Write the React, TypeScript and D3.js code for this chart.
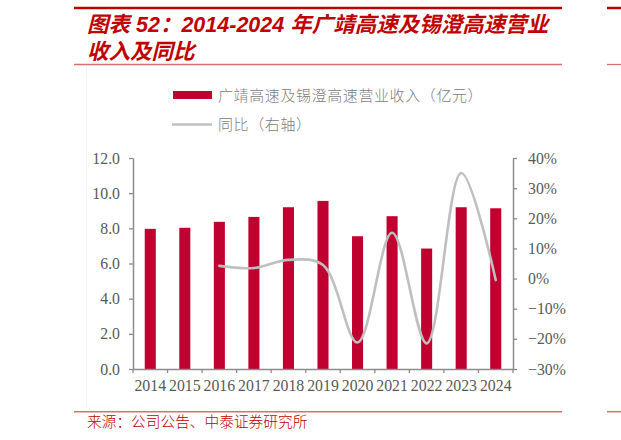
import { useRef, useEffect } from "react";
import * as d3 from "d3";

const years = ["2014", "2015", "2016", "2017", "2018", "2019", "2020", "2021", "2022", "2023", "2024"];
const revenue = [7.97, 8.03, 8.37, 8.65, 9.2, 9.56, 7.55, 8.69, 6.85, 9.2, 9.14];
const growthYears = ["2016", "2017", "2018", "2019", "2020", "2021", "2022", "2023", "2024"];
const growth = [0.042, 0.035, 0.062, 0.045, -0.212, 0.152, -0.215, 0.35, -0.005];
const leftTicks = [0, 2, 4, 6, 8, 10, 12];
const rightTicks = [-0.3, -0.2, -0.1, 0, 0.1, 0.2, 0.3, 0.4];

const W = 621;
const H = 440;
const RED = "#c00000";
const BAR = "#c0002f";
const AXIS = "#8c8c8c";
const LABEL = "#595959";
const SERIF = "'Liberation Serif', 'DejaVu Serif', serif";
const CJK = "'Noto Sans CJK SC', sans-serif";

export default function App() {
  const svgRef = useRef<SVGSVGElement>(null);

  useEffect(() => {
    if (!svgRef.current) return;
    const svg = d3.select(svgRef.current);
    svg.selectAll("*").remove();

    const x0 = 133, x1 = 513, yTop = 158, yBot = 369;

    const x = d3.scaleBand<string>().domain(years).range([x0, x1]).padding(0);
    const yL = d3.scaleLinear().domain([0, 12]).range([yBot, yTop]);
    const yR = d3.scaleLinear().domain([-0.3, 0.4]).range([yBot, yTop]);

    // header rules + title
    svg.append("line").attr("x1", 74).attr("x2", 562).attr("y1", 8).attr("y2", 8)
      .attr("stroke", RED).attr("stroke-width", 2.5);
    svg.append("line").attr("x1", 607).attr("x2", W).attr("y1", 8).attr("y2", 8)
      .attr("stroke", RED).attr("stroke-width", 2.5);
    svg.append("line").attr("x1", 74).attr("x2", 562).attr("y1", 64.5).attr("y2", 64.5)
      .attr("stroke", "#d87070").attr("stroke-width", 1.3);
    svg.append("line").attr("x1", 607).attr("x2", W).attr("y1", 64.5).attr("y2", 64.5)
      .attr("stroke", "#d87070").attr("stroke-width", 1.3);

    const title = svg.append("text")
      .attr("fill", RED)
      .attr("font-family", `'Liberation Sans', Arial, ${CJK}`)
      .attr("font-weight", "bold")
      .attr("font-style", "italic")
      .attr("font-size", 21.5);
    title.append("tspan").attr("x", 87).attr("y", 32).text("图表 52：2014-2024 年广靖高速及锡澄高速营业");
    title.append("tspan").attr("x", 87).attr("y", 59).text("收入及同比");

    // faint frame of the chart picture
    svg.append("line").attr("x1", 86.5).attr("x2", 86.5).attr("y1", 67).attr("y2", 408)
      .attr("stroke", "#f2f2f2").attr("stroke-width", 1);

    // legend
    svg.append("rect").attr("x", 173).attr("y", 91).attr("width", 39).attr("height", 8).attr("fill", BAR);
    svg.append("text").attr("x", 218).attr("y", 100.5)
      .attr("fill", "#808080").attr("font-family", CJK).attr("font-size", 15).attr("font-weight", 300)
      .attr("letter-spacing", 0.6)
      .text("广靖高速及锡澄高速营业收入（亿元）");
    svg.append("line").attr("x1", 172).attr("x2", 212).attr("y1", 124.5).attr("y2", 124.5)
      .attr("stroke", "#bfbfbf").attr("stroke-width", 2.5);
    svg.append("text").attr("x", 218).attr("y", 130)
      .attr("fill", "#808080").attr("font-family", CJK).attr("font-size", 15).attr("font-weight", 300)
      .attr("letter-spacing", 0.6)
      .text("同比（右轴）");

    // bars
    const bw = x.bandwidth() * 0.32;
    svg.append("g").selectAll("rect")
      .data(years.map((yr, i) => ({ yr, v: revenue[i] })))
      .join("rect")
      .attr("x", (d) => (x(d.yr) as number) + x.bandwidth() / 2 - bw / 2)
      .attr("y", (d) => yL(d.v))
      .attr("width", bw)
      .attr("height", (d) => yBot - yL(d.v))
      .attr("fill", BAR);

    // growth line
    const line = d3.line<{ yr: string; v: number }>()
      .x((d) => (x(d.yr) as number) + x.bandwidth() / 2)
      .y((d) => yR(d.v))
      .curve(d3.curveCatmullRom.alpha(0.5));
    svg.append("path")
      .datum(growthYears.map((yr, i) => ({ yr, v: growth[i] })))
      .attr("d", line)
      .attr("fill", "none")
      .attr("stroke", "#bfbfbf")
      .attr("stroke-width", 2.6)
      .attr("stroke-linecap", "round");

    // axes
    const gx = svg.append("g").attr("transform", `translate(0,${yBot})`)
      .call(d3.axisBottom(x).tickSize(0).tickPadding(11));
    gx.select(".domain").attr("stroke", AXIS).attr("stroke-width", 1.5);
    gx.selectAll(".tick text").attr("fill", LABEL).attr("font-family", SERIF).attr("font-size", 15.8);
    gx.selectAll("line.bt")
      .data(d3.range(years.length + 1))
      .join("line")
      .attr("class", "bt")
      .attr("x1", (i) => x0 + i * x.step())
      .attr("x2", (i) => x0 + i * x.step())
      .attr("y1", 0).attr("y2", 4)
      .attr("stroke", AXIS).attr("stroke-width", 1.3);

    const gl = svg.append("g").attr("transform", `translate(${x0},0)`)
      .call(d3.axisLeft(yL).tickValues(leftTicks).tickFormat(d3.format(".1f")).tickSize(4).tickPadding(9).tickSizeOuter(0));
    gl.select(".domain").attr("stroke", AXIS).attr("stroke-width", 1.5);
    gl.selectAll(".tick line").attr("stroke", AXIS).attr("stroke-width", 1.3);
    gl.selectAll(".tick text").attr("fill", LABEL).attr("font-family", SERIF).attr("font-size", 15.8);

    const gr = svg.append("g").attr("transform", `translate(${x1},0)`)
      .call(d3.axisRight(yR).tickValues(rightTicks).tickFormat(d3.format(".0%")).tickSize(4).tickPadding(11).tickSizeOuter(0));
    gr.select(".domain").attr("stroke", AXIS).attr("stroke-width", 1.5);
    gr.selectAll(".tick line").attr("stroke", AXIS).attr("stroke-width", 1.3);
    gr.selectAll(".tick text").attr("fill", LABEL).attr("font-family", SERIF).attr("font-size", 15.8);

    // footer
    svg.append("line").attr("x1", 74).attr("x2", 562).attr("y1", 411.7).attr("y2", 411.7)
      .attr("stroke", "#d87070").attr("stroke-width", 1.5);
    svg.append("line").attr("x1", 607).attr("x2", W).attr("y1", 411.7).attr("y2", 411.7)
      .attr("stroke", "#d87070").attr("stroke-width", 1.5);
    svg.append("text").attr("x", 87).attr("y", 427)
      .attr("fill", RED).attr("font-family", CJK).attr("font-size", 14.7).attr("font-weight", 300)
      .text("来源：公司公告、中泰证券研究所");
  }, []);

  return (
    <svg
      ref={svgRef}
      width={W}
      height={H}
      style={{ position: "absolute", left: 0, top: 0, background: "#fff" }}
    />
  );
}
